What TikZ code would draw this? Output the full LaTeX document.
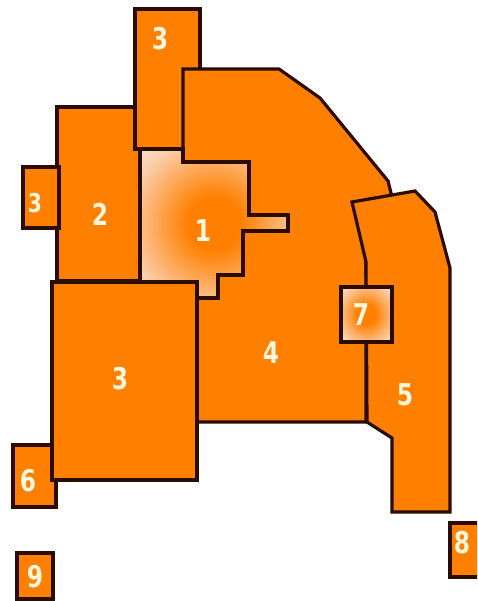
\documentclass[tikz,border=0pt]{standalone}
\usepackage{fontspec}
\usepackage{tikz}
\newfontfamily\plotfont[FakeStretch=0.78]{DejaVu Sans}
\definecolor{zoneorange}{HTML}{FF8000}
\definecolor{zoneline}{HTML}{2A0C00}
\definecolor{zonepeach}{HTML}{FAD2B2}
\definecolor{zonepale}{HTML}{FDEEE2}
\definecolor{zonetext}{HTML}{FFF6DC}
\pgfdeclareradialshading{hotspot}{\pgfpoint{0bp}{0bp}}{%
  color(0bp)=(zoneorange); color(9bp)=(zoneorange); color(30bp)=(zonepeach);
  color(42bp)=(zonepale); color(50bp)=(zonepale)}
\tikzset{
  zone/.style={fill=zoneorange,draw=zoneline,line width=3.2pt,line join=miter},
  hotzone/.style={draw=zoneline,line width=3.2pt,line join=miter,shading=hotspot},
  num/.style={text=zonetext,font=\plotfont\bfseries\fontsize{30}{30}\selectfont,inner sep=0pt},
}

\begin{document}
\begin{tikzpicture}[x=1pt,y=-1pt]
\clip (0,0) rectangle (477,601);
\fill[white] (0,0) rectangle (477,601);

% outer plots
\draw[zone] (57,107) rectangle (140,281);
\draw[zone] (23,167) rectangle (59,228);
\draw[zone] (135,9) rectangle (200,149);

% main block
\draw[zone] (183,69) -- (279,69) -- (320,98) -- (388,181) -- (391,193) -- (366,262)
  -- (366,422) -- (197,422) -- (197,298) -- (218,298) -- (218,275) -- (243,275)
  -- (243,231) -- (288,231) -- (288,215) -- (249,215) -- (249,162) -- (183,162) -- cycle;
\draw[zone] (352,202) -- (415,191) -- (435,212) -- (450,268) -- (450,512) -- (392,512)
  -- (392,438) -- (367,422) -- (366,262) -- cycle;
\shadedraw[hotzone] (140,149) -- (183,149) -- (183,162) -- (249,162) -- (249,215)
  -- (288,215) -- (288,231) -- (243,231) -- (243,275) -- (218,275) -- (218,298)
  -- (197,298) -- (197,282) -- (140,282) -- cycle;
\shadedraw[hotzone] (341,287) rectangle (392,342);

% lower plots
\draw[zone] (13,445) rectangle (56,507);
\draw[zone] (52,282) rectangle (197,480);
\draw[zone] (17,553) rectangle (53,599);
\draw[zone] (450,523) rectangle (490,577);

\node[num] (n1) at (203,231) {1};
\node[num] (n2) at (100,214) {2};
\node[num] (n3top) at (160,39) {3};
\node[num,font=\plotfont\bfseries\fontsize{26}{26}\selectfont] (n3left) at (35,203) {3};
\node[num] (n3big) at (120,379) {3};
\node[num] (n4) at (271,353) {4};
\node[num] (n5) at (405,395) {5};
\node[num] (n6) at (28,481) {6};
\node[num] (n7) at (361,315) {7};
\node[num] (n8) at (462,543) {8};
\node[num] (n9) at (35,577) {9};
\end{tikzpicture}
\end{document}
